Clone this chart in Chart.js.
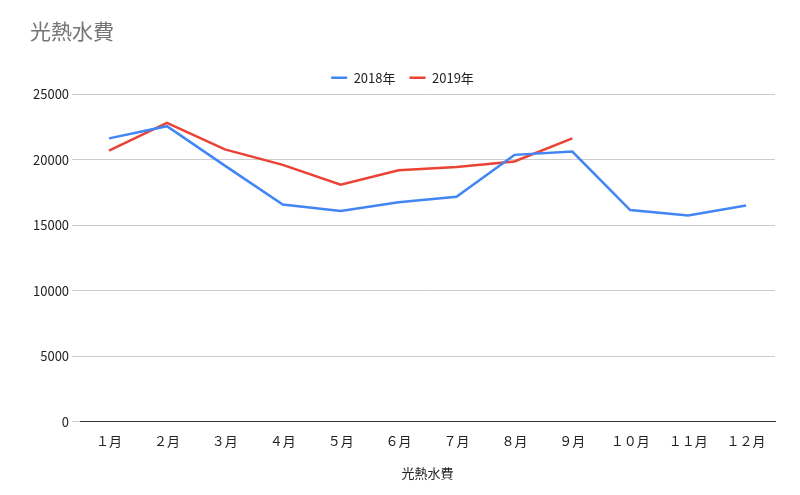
<!DOCTYPE html><html><head><meta charset="utf-8">
<script src="https://cdn.jsdelivr.net/npm/chart.js@4"></script>
<style>body{margin:0;background:#fff}#w{width:800px;height:495px}</style></head><body>
<div id="w"><canvas id="c"></canvas></div>
<script>
const categories=["１月","２月","３月","４月","５月","６月","７月","８月","９月","１０月","１１月","１２月"];
const s2018=[21630,22560,19550,16580,16080,16750,17170,20370,20620,16160,15740,16500];
const s2019=[20700,22810,20790,19610,18100,19190,19440,19870,21630,null,null,null];
const yTicks=[0,5000,10000,15000,20000,25000];
const F="'Noto Sans CJK JP', Arial, sans-serif";
new Chart(document.getElementById('c'),{type:'line',
data:{labels:categories,datasets:[
{label:'2018年',data:s2018,borderColor:'#4285f4',backgroundColor:'#4285f4',borderWidth:2.5,pointRadius:0,tension:0},
{label:'2019年',data:s2019,borderColor:'#ea4335',backgroundColor:'#ea4335',borderWidth:2.5,pointRadius:0,tension:0}]},
options:{responsive:true,maintainAspectRatio:false,animation:false,
layout:{padding:{left:30,right:25,top:18,bottom:10}},
plugins:{title:{display:true,text:'光熱水費',align:'start',color:'#757575',font:{family:F,size:21,weight:'normal'},padding:{bottom:14}},
legend:{labels:{usePointStyle:true,pointStyle:'line',pointStyleWidth:16,boxWidth:16,padding:14,color:'#222',font:{family:F,size:13}}},tooltip:{enabled:false}},
scales:{x:{offset:true,grid:{display:false},border:{color:'#333'},ticks:{color:'#222',font:{family:F,size:13}},
title:{display:true,text:'光熱水費',color:'#222',font:{family:F,size:13},padding:{top:14}}},
y:{min:0,max:25000,afterBuildTicks:a=>{a.ticks=yTicks.map(v=>({value:v}))},ticks:{callback:v=>String(v),color:'#222',font:{family:F,size:13}},grid:{color:'#ccc'},border:{display:false}}}}});
</script></body></html>
